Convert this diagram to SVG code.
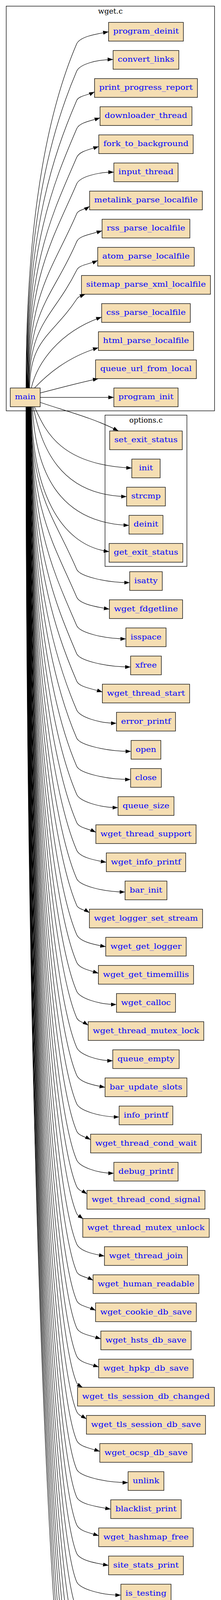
<svg xmlns="http://www.w3.org/2000/svg" width="565" height="4685" viewBox="0 0 565 4685">
<style>
.n rect{fill:#f5deb3;stroke:#000;stroke-width:1.3}
.n text{font-family:"DejaVu Serif","Liberation Serif",serif;font-size:19px;fill:#0000ff;text-anchor:middle}
.c rect{fill:none;stroke:#000;stroke-width:1.3}
.c text{font-family:"DejaVu Serif","Liberation Serif",serif;font-size:19px;fill:#000;text-anchor:middle}
#edges path{fill:none;stroke:#000;stroke-width:1.2;marker-end:url(#ah)}
</style>
<defs>
<marker id="ah" markerUnits="userSpaceOnUse" markerWidth="14" markerHeight="10" refX="14" refY="5" orient="auto" viewBox="0 0 14 10"><path d="M0,0 L14,5 L0,10 Z" fill="#000"/></marker>
</defs>
<rect x="0" y="0" width="565" height="4685" fill="#fff"/>
<g id="cluster_wget" class="c"><rect x="15.9" y="15.7" width="532.6" height="1036"/><text x="282.2" y="35" textLength="63" lengthAdjust="spacingAndGlyphs">wget.c</text></g>
<g id="cluster_options" class="c"><rect x="268.5" y="1062.7" width="209.3" height="387.3"/><text x="373.2" y="1082" textLength="85.4" lengthAdjust="spacingAndGlyphs">options.c</text></g>
<g id="edges">
<path d="M66.5,993.3 C66.5,508.7 136,252.3 196,112.3 c8,-18 45.4,-24.6 81.55,-31"/>
<path d="M67.5,993.3 C67.5,547.3 136,322.3 196,182.3 c8,-18 51.3,-30 93.2,-30"/>
<path d="M68.5,993.3 C68.5,588.5 136,397.3 196,257.3 c5,-12 27.4,-13.3 45.7,-22"/>
<path d="M69.5,993.3 C69.5,628.3 136,469.7 196,329.7 c7,-16 34.1,-19.7 59.7,-28"/>
<path d="M70.5,993.3 C70.5,668.6 136,543 196,403 c7,-16 32.3,-20.1 56.5,-28"/>
<path d="M71.5,993.3 C71.5,705.9 136,610.7 196,470.7 c8,-18 52.3,-30 95.05,-30"/>
<path d="M72.5,993.3 C72.5,748 136,687.3 196,547.3 c4,-10 20.6,-10.9 33.05,-19"/>
<path d="M73.5,993.3 C73.5,787.3 136,758.7 196,618.7 c7,-16 37.2,-19 64.95,-28"/>
<path d="M74.5,993.3 C74.5,827.4 136,812.3 196,691.7 c6,-14 31.8,-14.8 53.75,-25"/>
<path d="M76,993.3 C76,868.3 136,857 196,766 c5,-8 14,-9.7 22,-12.7"/>
<path d="M80,993.3 C95,930 150,850 259.85,811.7"/>
<path d="M88,993.3 C120,960 170,915 251.55,890"/>
<path d="M102.7,1006 C150,994 200,980 251.5,969.3"/>
<path d="M102.7,1017.3 L291.05,1017.3"/>
<path d="M102.7,1030 C160,1050 240,1070 302.7,1103.3"/>
<path d="M88,1041.3 C115,1100 150,1190 336.95,1198.3"/>
<path d="M85,1041.3 C105,1140 150,1268 323.65,1271.3"/>
<path d="M83,1041.3 C90,1200 145,1338 329.75,1345"/>
<path d="M81,1041.3 C82,1250 150,1395 278.95,1412.3"/>
<path d="M79.5,1041.3 C79.5,1270.2 136,1317.5 196,1457.5 c8,18 74.6,34 135.55,34"/>
<path d="M79.2,1041.3 C79.2,1309.3 136,1388.5 196,1528.5 c8,18 46.6,24.5 83.65,31"/>
<path d="M78.9,1041.3 C78.9,1349.4 136,1461.5 196,1601.5 c8,18 69.2,34 125.85,34"/>
<path d="M78.6,1041.3 C78.6,1389 136,1533.5 196,1673.5 c8,18 75.8,34 137.9,34"/>
<path d="M78.3,1041.3 C78.3,1427.5 136,1603.5 196,1743.5 c7,16 37.6,18.9 65.65,28"/>
<path d="M78,1041.3 C78,1468.2 136,1677.5 196,1817.5 c8,18 56,34 101.75,34"/>
<path d="M77.7,1041.3 C77.7,1507.8 136,1749.5 196,1889.5 c8,18 76.5,34 139.15,34"/>
<path d="M77.4,1041.3 C77.4,1547.4 136,1821.5 196,1961.5 c8,18 75.8,34 137.9,34"/>
<path d="M77.1,1041.3 C77.1,1587 136,1893.5 196,2033.5 c8,18 58.1,34 105.65,34"/>
<path d="M76.8,1041.3 C76.8,1626.6 136,1965.5 196,2105.5 c6,14 29,15.7 49.05,25"/>
<path d="M76.5,1041.3 C76.5,1665.7 136,2036.5 196,2176.5 c8,18 42.2,25.1 75.75,31"/>
<path d="M76.2,1041.3 C76.2,1705.8 136,2109.5 196,2249.5 c8,18 68,34 123.65,34"/>
<path d="M75.9,1041.3 C75.9,1743.2 136,2177.5 196,2317.5 c4,10 20.3,11 32.55,19"/>
<path d="M75.6,1041.3 C75.6,1784.5 136,2252.5 196,2392.5 c8,18 41.4,25.2 74.35,31"/>
<path d="M75.3,1041.3 C75.3,1823.5 136,2323.5 196,2463.5 c7,16 31.8,20.3 55.55,28"/>
<path d="M75,1041.3 C75,1864.2 136,2397.5 196,2537.5 c8,18 56,34 101.75,34"/>
<path d="M74.7,1041.3 C74.7,1901.6 136,2465.5 196,2605.5 c4,10 18.3,11.8 29.45,19"/>
<path d="M74.4,1041.3 C74.4,1943.4 136,2541.5 196,2681.5 c8,18 50.8,34 92.35,34"/>
<path d="M74.1,1041.3 C74.1,1982.5 136,2612.5 196,2752.5 c8,18 40.4,25.3 72.55,31"/>
<path d="M73.8,1041.3 C73.8,2022.6 136,2685.5 196,2825.5 c8,18 59.7,34 108.55,34"/>
<path d="M73.5,1041.3 C73.5,2061.1 136,2755.5 196,2895.5 c5,12 21.5,14.5 35.6,22"/>
<path d="M73.2,1041.3 C73.2,2101.8 136,2829.5 196,2969.5 c8,18 52.3,34 95.05,34"/>
<path d="M72.9,1041.3 C72.9,2139.2 136,2897.5 196,3037.5 c4,10 16.4,12.5 26.35,19"/>
<path d="M72.6,1041.3 C72.6,2177.2 136,2966.5 196,3106.5 c3,7 10.6,9.5 16.6,14"/>
<path d="M72.3,1041.3 C72.3,2220.1 136,3044.5 196,3184.5 c8,18 39.6,25.5 71.05,31"/>
<path d="M72,1041.3 C72,2259.1 136,3115.5 196,3255.5 c5,12 25.2,13.2 41.85,22"/>
<path d="M71.7,1041.3 C71.7,2299.8 136,3189.5 196,3329.5 c6,14 28.6,15.8 48.35,25"/>
<path d="M71.4,1041.3 C71.4,2338.3 136,3259.5 196,3399.5 c7,16 35.3,19.4 61.75,28"/>
<path d="M71.1,1041.3 C71.1,2377.9 136,3331.5 196,3471.5 c7,16 32.2,20.2 56.35,28"/>
<path d="M70.8,1041.3 C70.8,2415.6 136,3400 196,3540 c3,6 9.5,8.5 14.8,11.5"/>
<path d="M70.5,1041.3 C70.5,2456 136,3473.5 196,3613.5 c4,10 15.5,12.9 24.95,19"/>
<path d="M70.2,1041.3 C70.2,2496.7 136,3547.5 196,3687.5 c7,16 33.8,19.8 59.15,28"/>
<path d="M69.9,1041.3 C69.9,2537.4 136,3621.5 196,3761.5 c8,18 72.3,34 131.45,34"/>
<path d="M69.6,1041.3 C69.6,2576.5 136,3692.5 196,3832.5 c8,18 48.5,24.2 87.1,31"/>
<path d="M69.3,1041.3 C69.3,2615.5 136,3763.5 196,3903.5 c7,16 32.2,20.2 56.35,28"/>
<path d="M69,1041.3 C69,2655.7 136,3836.5 196,3976.5 c8,18 45.4,24.6 81.55,31"/>
<path d="M68.7,1041.3 C68.7,2695.8 136,3909.5 196,4049.5 c8,18 62.2,34 113.05,34"/>
<path d="M68.4,1041.3 C68.4,2734.9 136,3980.5 196,4120.5 c8,18 42.2,25.1 75.75,31"/>
<path d="M68.1,1041.3 C68.1,2775 136,4053.5 196,4193.5 c8,18 50.3,34 91.45,34"/>
<path d="M67.8,1041.3 C67.8,2814.6 136,4125.5 196,4265.5 c8,18 60.4,34 109.8,34"/>
<path d="M67.5,1041.3 C67.5,2854.2 136,4197.5 196,4337.5 c8,18 60.4,34 109.8,34"/>
<path d="M67.2,1041.3 C67.2,2891.6 136,4265.5 196,4405.5 c4,10 15.5,12.9 24.95,19"/>
<path d="M66.9,1041.3 C66.9,2932.9 136,4340.5 196,4480.5 c8,18 39.9,25.4 71.6,31"/>
<path d="M66.6,1041.3 C66.6,2973 136,4413.5 196,4553.5 c6,14 29.4,15.6 49.65,25"/>
<path d="M66.3,1041.3 C66.3,3011.5 136,4483.5 196,4623.5 c7,16 37.5,18.9 65.5,28"/>
</g>
<g id="node_main" class="n"><rect x="26.3" y="993.3" width="76.4" height="48"/><text x="64.5" y="1022.3" textLength="53" lengthAdjust="spacingAndGlyphs">main</text></g>
<g id="node_program_deinit" class="n"><rect x="277.55" y="57.3" width="191.3" height="48"/><text x="373.2" y="86.3" textLength="167.7" lengthAdjust="spacingAndGlyphs">program_deinit</text></g>
<g id="node_convert_links" class="n"><rect x="289.2" y="129.3" width="168" height="48"/><text x="373.2" y="158.3" textLength="144.4" lengthAdjust="spacingAndGlyphs">convert_links</text></g>
<g id="node_print_progress_report" class="n"><rect x="241.7" y="201.3" width="263" height="48"/><text x="373.2" y="230.3" textLength="239.4" lengthAdjust="spacingAndGlyphs">print_progress_report</text></g>
<g id="node_downloader_thread" class="n"><rect x="255.7" y="273.3" width="235" height="48"/><text x="373.2" y="302.3" textLength="211.4" lengthAdjust="spacingAndGlyphs">downloader_thread</text></g>
<g id="node_fork_to_background" class="n"><rect x="252.5" y="345.3" width="241.4" height="48"/><text x="373.2" y="374.3" textLength="217.8" lengthAdjust="spacingAndGlyphs">fork_to_background</text></g>
<g id="node_input_thread" class="n"><rect x="291.05" y="417.3" width="164.3" height="48"/><text x="373.2" y="446.3" textLength="140.7" lengthAdjust="spacingAndGlyphs">input_thread</text></g>
<g id="node_metalink_parse_localfile" class="n"><rect x="229.05" y="489.3" width="288.3" height="48"/><text x="373.2" y="518.3" textLength="264.7" lengthAdjust="spacingAndGlyphs">metalink_parse_localfile</text></g>
<g id="node_rss_parse_localfile" class="n"><rect x="260.95" y="561.3" width="224.5" height="48"/><text x="373.2" y="590.3" textLength="200.9" lengthAdjust="spacingAndGlyphs">rss_parse_localfile</text></g>
<g id="node_atom_parse_localfile" class="n"><rect x="249.75" y="633.3" width="246.9" height="48"/><text x="373.2" y="662.3" textLength="223.3" lengthAdjust="spacingAndGlyphs">atom_parse_localfile</text></g>
<g id="node_sitemap_parse_xml_localfile" class="n"><rect x="208.35" y="705.3" width="329.7" height="48"/><text x="373.2" y="734.3" textLength="306.1" lengthAdjust="spacingAndGlyphs">sitemap_parse_xml_localfile</text></g>
<g id="node_css_parse_localfile" class="n"><rect x="259.85" y="777.3" width="226.7" height="48"/><text x="373.2" y="806.3" textLength="203.1" lengthAdjust="spacingAndGlyphs">css_parse_localfile</text></g>
<g id="node_html_parse_localfile" class="n"><rect x="251.55" y="849.3" width="243.3" height="48"/><text x="373.2" y="878.3" textLength="219.7" lengthAdjust="spacingAndGlyphs">html_parse_localfile</text></g>
<g id="node_queue_url_from_local" class="n"><rect x="244.35" y="921.3" width="257.7" height="48"/><text x="373.2" y="950.3" textLength="234.1" lengthAdjust="spacingAndGlyphs">queue_url_from_local</text></g>
<g id="node_program_init" class="n"><rect x="291.05" y="993.3" width="164.3" height="48"/><text x="373.2" y="1022.3" textLength="140.7" lengthAdjust="spacingAndGlyphs">program_init</text></g>
<g id="node_set_exit_status" class="n"><rect x="280.4" y="1103.3" width="185.6" height="48"/><text x="373.2" y="1132.3" textLength="162" lengthAdjust="spacingAndGlyphs">set_exit_status</text></g>
<g id="node_init" class="n"><rect x="336.95" y="1175.3" width="72.5" height="48"/><text x="373.2" y="1204.3" textLength="36" lengthAdjust="spacingAndGlyphs">init</text></g>
<g id="node_strcmp" class="n"><rect x="323.65" y="1247.3" width="99.1" height="48"/><text x="373.2" y="1276.3" textLength="75.5" lengthAdjust="spacingAndGlyphs">strcmp</text></g>
<g id="node_deinit" class="n"><rect x="329.75" y="1319.3" width="86.9" height="48"/><text x="373.2" y="1348.3" textLength="63.3" lengthAdjust="spacingAndGlyphs">deinit</text></g>
<g id="node_get_exit_status" class="n"><rect x="278.95" y="1391.3" width="188.5" height="48"/><text x="373.2" y="1420.3" textLength="164.9" lengthAdjust="spacingAndGlyphs">get_exit_status</text></g>
<g id="node_isatty" class="n"><rect x="331.55" y="1463.5" width="83.3" height="48"/><text x="373.2" y="1492.5" textLength="59.7" lengthAdjust="spacingAndGlyphs">isatty</text></g>
<g id="node_wget_fdgetline" class="n"><rect x="279.65" y="1535.5" width="187.1" height="48"/><text x="373.2" y="1564.5" textLength="163.5" lengthAdjust="spacingAndGlyphs">wget_fdgetline</text></g>
<g id="node_isspace" class="n"><rect x="321.85" y="1607.5" width="102.7" height="48"/><text x="373.2" y="1636.5" textLength="79.1" lengthAdjust="spacingAndGlyphs">isspace</text></g>
<g id="node_xfree" class="n"><rect x="333.9" y="1679.5" width="78.6" height="48"/><text x="373.2" y="1708.5" textLength="55" lengthAdjust="spacingAndGlyphs">xfree</text></g>
<g id="node_wget_thread_start" class="n"><rect x="261.65" y="1751.5" width="223.1" height="48"/><text x="373.2" y="1780.5" textLength="199.5" lengthAdjust="spacingAndGlyphs">wget_thread_start</text></g>
<g id="node_error_printf" class="n"><rect x="297.75" y="1823.5" width="150.9" height="48"/><text x="373.2" y="1852.5" textLength="127.3" lengthAdjust="spacingAndGlyphs">error_printf</text></g>
<g id="node_open" class="n"><rect x="335.15" y="1895.5" width="76.1" height="48"/><text x="373.2" y="1924.5" textLength="52.5" lengthAdjust="spacingAndGlyphs">open</text></g>
<g id="node_close" class="n"><rect x="333.9" y="1967.5" width="78.6" height="48"/><text x="373.2" y="1996.5" textLength="55" lengthAdjust="spacingAndGlyphs">close</text></g>
<g id="node_queue_size" class="n"><rect x="301.65" y="2039.5" width="143.1" height="48"/><text x="373.2" y="2068.5" textLength="119.5" lengthAdjust="spacingAndGlyphs">queue_size</text></g>
<g id="node_wget_thread_support" class="n"><rect x="245.05" y="2111.5" width="256.3" height="48"/><text x="373.2" y="2140.5" textLength="232.7" lengthAdjust="spacingAndGlyphs">wget_thread_support</text></g>
<g id="node_wget_info_printf" class="n"><rect x="271.75" y="2183.5" width="202.9" height="48"/><text x="373.2" y="2212.5" textLength="179.3" lengthAdjust="spacingAndGlyphs">wget_info_printf</text></g>
<g id="node_bar_init" class="n"><rect x="319.65" y="2255.5" width="107.1" height="48"/><text x="373.2" y="2284.5" textLength="83.5" lengthAdjust="spacingAndGlyphs">bar_init</text></g>
<g id="node_wget_logger_set_stream" class="n"><rect x="228.55" y="2327.5" width="289.3" height="48"/><text x="373.2" y="2356.5" textLength="265.7" lengthAdjust="spacingAndGlyphs">wget_logger_set_stream</text></g>
<g id="node_wget_get_logger" class="n"><rect x="270.35" y="2399.5" width="205.7" height="48"/><text x="373.2" y="2428.5" textLength="182.1" lengthAdjust="spacingAndGlyphs">wget_get_logger</text></g>
<g id="node_wget_get_timemillis" class="n"><rect x="251.55" y="2471.5" width="243.3" height="48"/><text x="373.2" y="2500.5" textLength="219.7" lengthAdjust="spacingAndGlyphs">wget_get_timemillis</text></g>
<g id="node_wget_calloc" class="n"><rect x="297.75" y="2543.5" width="150.9" height="48"/><text x="373.2" y="2572.5" textLength="127.3" lengthAdjust="spacingAndGlyphs">wget_calloc</text></g>
<g id="node_wget_thread_mutex_lock" class="n"><rect x="225.45" y="2615.5" width="295.5" height="48"/><text x="373.2" y="2644.5" textLength="271.9" lengthAdjust="spacingAndGlyphs">wget_thread_mutex_lock</text></g>
<g id="node_queue_empty" class="n"><rect x="288.35" y="2687.5" width="169.7" height="48"/><text x="373.2" y="2716.5" textLength="146.1" lengthAdjust="spacingAndGlyphs">queue_empty</text></g>
<g id="node_bar_update_slots" class="n"><rect x="268.55" y="2759.5" width="209.3" height="48"/><text x="373.2" y="2788.5" textLength="185.7" lengthAdjust="spacingAndGlyphs">bar_update_slots</text></g>
<g id="node_info_printf" class="n"><rect x="304.55" y="2831.5" width="137.3" height="48"/><text x="373.2" y="2860.5" textLength="113.7" lengthAdjust="spacingAndGlyphs">info_printf</text></g>
<g id="node_wget_thread_cond_wait" class="n"><rect x="231.6" y="2903.5" width="283.2" height="48"/><text x="373.2" y="2932.5" textLength="259.6" lengthAdjust="spacingAndGlyphs">wget_thread_cond_wait</text></g>
<g id="node_debug_printf" class="n"><rect x="291.05" y="2975.5" width="164.3" height="48"/><text x="373.2" y="3004.5" textLength="140.7" lengthAdjust="spacingAndGlyphs">debug_printf</text></g>
<g id="node_wget_thread_cond_signal" class="n"><rect x="222.35" y="3047.5" width="301.7" height="48"/><text x="373.2" y="3076.5" textLength="278.1" lengthAdjust="spacingAndGlyphs">wget_thread_cond_signal</text></g>
<g id="node_wget_thread_mutex_unlock" class="n"><rect x="211.55" y="3119.5" width="323.3" height="48"/><text x="373.2" y="3148.5" textLength="299.7" lengthAdjust="spacingAndGlyphs">wget_thread_mutex_unlock</text></g>
<g id="node_wget_thread_join" class="n"><rect x="267.05" y="3191.5" width="212.3" height="48"/><text x="373.2" y="3220.5" textLength="188.7" lengthAdjust="spacingAndGlyphs">wget_thread_join</text></g>
<g id="node_wget_human_readable" class="n"><rect x="237.85" y="3263.5" width="270.7" height="48"/><text x="373.2" y="3292.5" textLength="247.1" lengthAdjust="spacingAndGlyphs">wget_human_readable</text></g>
<g id="node_wget_cookie_db_save" class="n"><rect x="244.35" y="3335.5" width="257.7" height="48"/><text x="373.2" y="3364.5" textLength="234.1" lengthAdjust="spacingAndGlyphs">wget_cookie_db_save</text></g>
<g id="node_wget_hsts_db_save" class="n"><rect x="257.75" y="3407.5" width="230.9" height="48"/><text x="373.2" y="3436.5" textLength="207.3" lengthAdjust="spacingAndGlyphs">wget_hsts_db_save</text></g>
<g id="node_wget_hpkp_db_save" class="n"><rect x="252.35" y="3479.5" width="241.7" height="48"/><text x="373.2" y="3508.5" textLength="218.1" lengthAdjust="spacingAndGlyphs">wget_hpkp_db_save</text></g>
<g id="node_wget_tls_session_db_changed" class="n"><rect x="198.25" y="3551.5" width="349.9" height="48"/><text x="373.2" y="3580.5" textLength="326.3" lengthAdjust="spacingAndGlyphs">wget_tls_session_db_changed</text></g>
<g id="node_wget_tls_session_db_save" class="n"><rect x="220.95" y="3623.5" width="304.5" height="48"/><text x="373.2" y="3652.5" textLength="280.9" lengthAdjust="spacingAndGlyphs">wget_tls_session_db_save</text></g>
<g id="node_wget_ocsp_db_save" class="n"><rect x="255.15" y="3695.5" width="236.1" height="48"/><text x="373.2" y="3724.5" textLength="212.5" lengthAdjust="spacingAndGlyphs">wget_ocsp_db_save</text></g>
<g id="node_unlink" class="n"><rect x="327.45" y="3767.5" width="91.5" height="48"/><text x="373.2" y="3796.5" textLength="67.9" lengthAdjust="spacingAndGlyphs">unlink</text></g>
<g id="node_blacklist_print" class="n"><rect x="283.1" y="3839.5" width="180.2" height="48"/><text x="373.2" y="3868.5" textLength="156.6" lengthAdjust="spacingAndGlyphs">blacklist_print</text></g>
<g id="node_wget_hashmap_free" class="n"><rect x="252.35" y="3911.5" width="241.7" height="48"/><text x="373.2" y="3940.5" textLength="218.1" lengthAdjust="spacingAndGlyphs">wget_hashmap_free</text></g>
<g id="node_site_stats_print" class="n"><rect x="277.55" y="3983.5" width="191.3" height="48"/><text x="373.2" y="4012.5" textLength="167.7" lengthAdjust="spacingAndGlyphs">site_stats_print</text></g>
<g id="node_is_testing" class="n"><rect x="309.05" y="4055.5" width="128.3" height="48"/><text x="373.2" y="4084.5" textLength="104.7" lengthAdjust="spacingAndGlyphs">is_testing</text></g>
<g id="node_wget_match_tail" class="n"><rect x="271.75" y="4127.5" width="202.9" height="48"/><text x="373.2" y="4156.5" textLength="179.3" lengthAdjust="spacingAndGlyphs">wget_match_tail</text></g>
<g id="node_blacklist_free" class="n"><rect x="287.45" y="4199.5" width="171.5" height="48"/><text x="373.2" y="4228.5" textLength="147.9" lengthAdjust="spacingAndGlyphs">blacklist_free</text></g>
<g id="node_hosts_free" class="n"><rect x="305.8" y="4271.5" width="134.8" height="48"/><text x="373.2" y="4300.5" textLength="111.2" lengthAdjust="spacingAndGlyphs">hosts_free</text></g>
<g id="node_bar_deinit" class="n"><rect x="305.8" y="4343.5" width="134.8" height="48"/><text x="373.2" y="4372.5" textLength="111.2" lengthAdjust="spacingAndGlyphs">bar_deinit</text></g>
<g id="node_wget_vector_clear_nofree" class="n"><rect x="220.95" y="4415.5" width="304.5" height="48"/><text x="373.2" y="4444.5" textLength="280.9" lengthAdjust="spacingAndGlyphs">wget_vector_clear_nofree</text></g>
<g id="node_wget_vector_free" class="n"><rect x="267.6" y="4487.5" width="211.2" height="48"/><text x="373.2" y="4516.5" textLength="187.6" lengthAdjust="spacingAndGlyphs">wget_vector_free</text></g>
<g id="node_wget_stringmap_free" class="n"><rect x="245.65" y="4559.5" width="255.1" height="48"/><text x="373.2" y="4588.5" textLength="231.5" lengthAdjust="spacingAndGlyphs">wget_stringmap_free</text></g>
<g id="node_plugin_db_finalize" class="n"><rect x="261.5" y="4631.5" width="223.4" height="48"/><text x="373.2" y="4660.5" textLength="199.8" lengthAdjust="spacingAndGlyphs">plugin_db_finalize</text></g>
</svg>
